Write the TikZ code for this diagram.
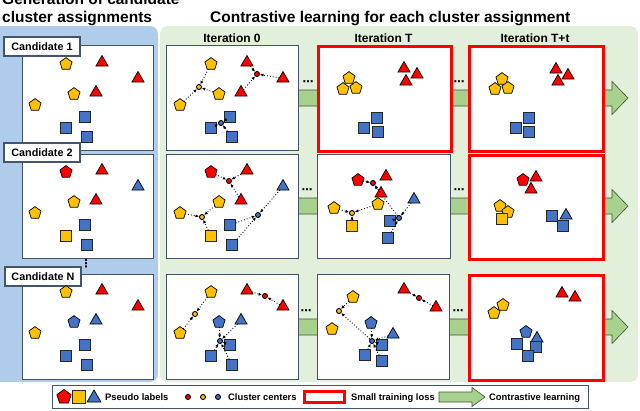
\documentclass[tikz,border=0pt]{standalone}
\usepackage{fontspec}
\setmainfont{Liberation Sans}
\newfontfamily\dejavu{DejaVu Sans}
\usetikzlibrary{shapes.geometric,arrows.meta}
\definecolor{bluebg}{RGB}{175,204,234}
\definecolor{greenbg}{RGB}{226,239,218}
\definecolor{slate}{RGB}{68,84,106}
\definecolor{pred}{RGB}{255,0,0}
\definecolor{pyel}{RGB}{255,192,0}
\definecolor{pblu}{RGB}{68,114,196}
\definecolor{agreen}{RGB}{169,209,142}
\definecolor{aline}{RGB}{62,82,52}
\begin{document}
\begin{tikzpicture}[x=1pt,y=-1pt,
 pent/.style={regular polygon, regular polygon sides=5, minimum size=12.8pt, inner sep=0pt, outer sep=0pt, draw=black, line width=0.7pt},
 tri/.style={regular polygon, regular polygon sides=3, minimum size=14pt, inner sep=0pt, outer sep=0pt, draw=black, line width=0.7pt, yshift=-1.5pt},
 sq/.style={rectangle, minimum size=11.5pt, inner sep=0pt, outer sep=0pt, draw=black!85, line width=0.7pt},
 ctr/.style={circle, minimum size=5pt, inner sep=0pt, draw=black, line width=0.9pt},
 conn/.style={dotted, line width=0.9pt, -{Latex[length=3.6pt,width=3.2pt]}},
 panel/.style={rectangle, draw=slate, line width=1.4pt, fill=white, anchor=north west, inner sep=0pt},
 hot/.style={panel, draw=pred, line width=3.2pt},
 bigarrow/.style={fill=agreen, draw=aline, line width=0.6pt},
 lab/.style={rectangle, draw=slate, line width=1.3pt, fill=white, minimum width=76pt, minimum height=19pt, inner sep=0pt, font=\fontsize{10.8}{12}\selectfont\bfseries},
 head/.style={inner sep=0pt, anchor=base, font=\fontsize{12}{14}\selectfont\bfseries},
 ttl/.style={inner sep=0pt, anchor=base west, font=\fontsize{15.5}{18}\selectfont\bfseries},
 legtxt/.style={inner sep=0pt, anchor=base west, font=\fontsize{9.4}{11}\selectfont\bfseries},
 dots/.style={inner sep=0pt, font=\dejavu\fontsize{11}{11}\selectfont\bfseries}
]
\useasboundingbox (0,0) rectangle (640,410);
\clip (0,0) rectangle (640,410);
% backgrounds
\fill[bluebg, rounded corners=8pt] (-12,26) rectangle (158,382);
\fill[greenbg, rounded corners=8pt] (160,26) rectangle (638,382);
% titles
\node[ttl] (t1) at (2,4) {Generation of candidate};
\node[ttl] (t2) at (2,22) {cluster assignments};
\node[ttl] (t3) at (210,22) {Contrastive learning for each cluster assignment};
\node[head] (h0) at (232,42) {Iteration 0};
\node[head] (hT) at (383.5,42) {Iteration T};
\node[head] (hTt) at (535,42) {Iteration T+t};
% big arrows
\foreach \yc in {98,206,327} {
  \draw[bigarrow] (290,\yc-8) -- (612,\yc-8) -- (612,\yc-16.5) -- (628,\yc) -- (612,\yc+16.5) -- (612,\yc+8) -- (290,\yc+8) -- cycle;
}
% panels
\node[panel, minimum width=131pt, minimum height=105pt] (pc1) at (22,45) {};
\node[panel, minimum width=131pt, minimum height=104pt] (pc2) at (22,154) {};
\node[panel, minimum width=131pt, minimum height=105pt] (pc3) at (22,274) {};
\node[panel, minimum width=132pt, minimum height=105pt] (pz1) at (166,45) {};
\node[panel, minimum width=132pt, minimum height=104pt] (pz2) at (166,154) {};
\node[panel, minimum width=132pt, minimum height=105pt] (pz3) at (166,274) {};
\node[hot, minimum width=133pt, minimum height=105pt] (pt1) at (317,45) {};
\node[panel, minimum width=133pt, minimum height=104pt] (pt2) at (317,154) {};
\node[panel, minimum width=132pt, minimum height=105pt] (pt3) at (317,274) {};
\node[hot, minimum width=134pt, minimum height=105pt] (pu1) at (468,45) {};
\node[hot, minimum width=134pt, minimum height=104pt] (pu2) at (468,154) {};
\node[hot, minimum width=134pt, minimum height=105pt] (pu3) at (468,274) {};
% labels
\node[lab] (l1) at (42,46.5) {Candidate 1};
\node[lab] (l2) at (42,152.5) {Candidate 2};
\node[lab] (l3) at (43,276.5) {Candidate N};
\node[dots] (vd) at (86,264) {⋮};
% ellipsis dots
\foreach \xx/\yy [count=\i] in {308/83,459/83,307/191,459/191,306/312,458/312} {
  \node[dots] (el\i) at (\xx,\yy) {⋯};
}
% candidate + iteration 0 shapes
\foreach \k/\dx in {c/0,z/145} {
  \foreach \n/\s/\c/\x/\y in {A/pent/pyel/66/64, B/tri/pred/102/61, C/tri/pred/138/77, D/pent/pyel/74/94, E/tri/pred/96/91, F/pent/pyel/35/105, G/sq/pblu/85/117, H/sq/pblu/66/128, I/sq/pblu/87/137} {
    \node[\s, fill=\c] (\k1\n) at ({\x+\dx},\y) {};
  }
  \foreach \n/\s/\c/\x/\y in {A/pent/pred/66/64, B/tri/pred/102/61, C/tri/pblu/138/77, D/pent/pyel/74/94, E/tri/pred/96/91, F/pent/pyel/35/105, G/sq/pblu/85/117, H/sq/pyel/66/128, I/sq/pblu/87/137} {
    \node[\s, fill=\c] (\k2\n) at ({\x+\dx},{\y+108}) {};
  }
  \foreach \n/\s/\c/\x/\y in {A/pent/pyel/66/64, B/tri/pred/102/61, C/tri/pred/138/77, D/pent/pblu/74/94, E/tri/pblu/96/91, F/pent/pyel/35/105, G/sq/pblu/85/117, H/sq/pblu/66/128, I/sq/pblu/87/137} {
    \node[\s, fill=\c] (\k3\n) at ({\x+\dx},{\y+228}) {};
  }
}
% iteration 0 centers and connectors
\node[ctr, fill=pyel] (z1y) at (199,87) {};
\node[ctr, fill=pred] (z1r) at (257,74) {};
\node[ctr, fill=pblu] (z1b) at (221,123) {};
\foreach \n in {A,D,F} \draw[conn] (z1\n) -- (z1y);
\foreach \n in {B,C,E} \draw[conn] (z1\n) -- (z1r);
\foreach \n in {G,H,I} \draw[conn] (z1\n) -- (z1b);
\node[ctr, fill=pred] (z2r) at (229,181) {};
\node[ctr, fill=pyel] (z2y) at (202,217) {};
\node[ctr, fill=pblu] (z2b) at (258,215) {};
\foreach \n in {A,B,E} \draw[conn] (z2\n) -- (z2r);
\foreach \n in {D,F,H} \draw[conn] (z2\n) -- (z2y);
\foreach \n in {C,G,I} \draw[conn] (z2\n) -- (z2b);
\node[ctr, fill=pyel] (z3y) at (195,314) {};
\node[ctr, fill=pred] (z3r) at (265,296) {};
\node[ctr, fill=pblu] (z3b) at (220,341) {};
\foreach \n in {A,F} \draw[conn] (z3\n) -- (z3y);
\foreach \n in {B,C} \draw[conn] (z3\n) -- (z3r);
\foreach \n in {D,E,G,H,I} \draw[conn] (z3\n) -- (z3b);
% iteration T row 1
\foreach \n/\s/\c/\x/\y in {a/pent/pyel/349/78, b/pent/pyel/343/89, c/pent/pyel/356/88, d/tri/pred/404/67, e/tri/pred/417/73, f/tri/pred/406/80, g/sq/pblu/377/118, h/sq/pblu/364/128, i/sq/pblu/378/132} {
  \node[\s, fill=\c] (t1\n) at (\x,\y) {};
}
% iteration T+t row 1
\foreach \n/\s/\c/\x/\y in {a/pent/pyel/502/79, b/pent/pyel/495/89, c/pent/pyel/508/88, d/tri/pred/556/68, e/tri/pred/568/74, f/tri/pred/558/80, g/sq/pblu/529/118, h/sq/pblu/516/128, i/sq/pblu/529/132} {
  \node[\s, fill=\c] (u1\n) at (\x,\y) {};
}
% iteration T row 2
\foreach \n/\s/\c/\x/\y in {a/pent/pred/358/180, b/tri/pred/386/175, c/tri/pred/381/192, d/pent/pyel/334/208, e/pent/pyel/378/204, f/sq/pyel/352/226, g/tri/pblu/414/198, h/sq/pblu/390/221, i/sq/pblu/388/238} {
  \node[\s, fill=\c] (t2\n) at (\x,\y) {};
}
\node[ctr, fill=pred] (t2r) at (373,183) {};
\node[ctr, fill=pyel] (t2y) at (352,213) {};
\node[ctr, fill=pblu] (t2b) at (399,218) {};
\foreach \n in {a,b,c} \draw[conn] (t2\n) -- (t2r);
\foreach \n in {d,e,f} \draw[conn] (t2\n) -- (t2y);
\foreach \n in {g,h,i} \draw[conn] (t2\n) -- (t2b);
% iteration T+t row 2
\foreach \n/\s/\c/\x/\y in {a/pent/pred/523/180, b/tri/pred/536/176, c/tri/pred/531/188, d/pent/pyel/500/206, e/pent/pyel/508/212, f/sq/pyel/502/219, g/tri/pblu/566/214, h/sq/pblu/552/216, i/sq/pblu/563/226} {
  \node[\s, fill=\c] (u2\n) at (\x,\y) {};
}
% iteration T row 3
\foreach \n/\s/\c/\x/\y in {a/pent/pyel/353/297, b/pent/pyel/332/329, c/tri/pred/404/288, d/tri/pred/436/306, e/pent/pblu/371/323, f/tri/pblu/393/333, g/sq/pblu/382/345, h/sq/pblu/365/355, i/sq/pblu/382/361} {
  \node[\s, fill=\c] (t3\n) at (\x,\y) {};
}
\node[ctr, fill=pyel] (t3y) at (339,311) {};
\node[ctr, fill=pred] (t3r) at (419,298) {};
\node[ctr, fill=pblu] (t3b) at (372,341) {};
\foreach \n in {a,b} \draw[conn] (t3\n) -- (t3y);
\foreach \n in {c,d} \draw[conn] (t3\n) -- (t3r);
\foreach \n in {e,f,g,h,i} \draw[conn] (t3\n) -- (t3b);
% iteration T+t row 3
\foreach \n/\s/\c/\x/\y in {a/pent/pyel/503/305, b/pent/pyel/494/313, c/tri/pred/562/292, d/tri/pred/575/296, e/pent/pblu/526/332, f/tri/pblu/537/337, g/sq/pblu/517/344, h/sq/pblu/536/347, i/sq/pblu/528/356} {
  \node[\s, fill=\c] (u3\n) at (\x,\y) {};
}
% legend
\node[panel, minimum width=536pt, minimum height=23pt] (leg) at (52,385) {};
\node[pent, fill=pred, minimum size=15pt] (lg1) at (64,397) {};
\node[sq, fill=pyel, minimum size=13pt] (lg2) at (79,397) {};
\node[tri, fill=pblu, minimum size=16pt, yshift=0.5pt] (lg3) at (94,397) {};
\node[legtxt] (lgt1) at (105,400.5) {Pseudo labels};
\node[ctr, fill=pred] (lc1) at (188,397) {};
\node[ctr, fill=pyel] (lc2) at (203,397) {};
\node[ctr, fill=pblu] (lc3) at (218,397) {};
\node[legtxt] (lgt2) at (228,400.5) {Cluster centers};
\node[rectangle, draw=pred, line width=3pt, minimum width=40pt, minimum height=11pt, inner sep=0pt] (lr) at (324,397) {};
\node[legtxt] (lgt3) at (351,400.5) {Small training loss};
\draw[bigarrow] (439,392) -- (472,392) -- (472,387.5) -- (485,397) -- (472,406.5) -- (472,402) -- (439,402) -- cycle;
\node[legtxt] (lgt4) at (489,400.5) {Contrastive learning};
\end{tikzpicture}
\end{document}
